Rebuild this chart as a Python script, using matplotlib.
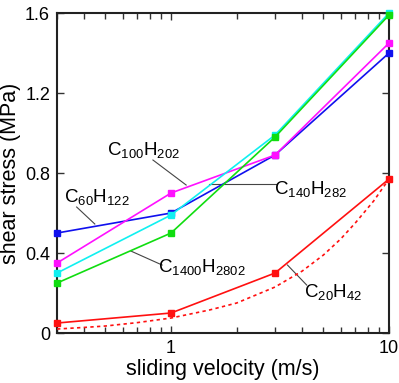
import matplotlib
matplotlib.use('Agg')
import matplotlib.pyplot as plt
from matplotlib.ticker import LogLocator, FixedLocator, NullFormatter, FixedFormatter

plt.rcParams['font.family'] = ['Liberation Sans', 'DejaVu Sans']
plt.rcParams['mathtext.default'] = 'regular'

# data
velocity = [0.3, 1, 3, 10]
c60 = [0.50, 0.60, 0.89, 1.40]
c100 = [0.35, 0.70, 0.89, 1.45]
c140 = [0.30, 0.59, 0.99, 1.60]
c1400 = [0.25, 0.50, 0.98, 1.59]
c20 = [0.05, 0.10, 0.30, 0.77]

# dotted curve for C20H42
fit_v = [0.3, 0.4, 0.5, 0.7, 1, 1.5, 2, 3, 4, 5, 6, 7, 8.5, 10]
fit_s = [0.02, 0.028, 0.035, 0.052, 0.075, 0.115, 0.15, 0.23, 0.31, 0.39, 0.47, 0.55, 0.66, 0.77]

series = [
    (c60, '#1010ee'),
    (c100, '#ff10ff'),
    (c140, '#10f0f0'),
    (c1400, '#10dd10'),
    (c20, '#ff1010'),
]

fig = plt.figure(figsize=(3.99, 3.83), dpi=100)
ax = fig.add_axes([0.143, 0.1305, 0.832, 0.8355])

for vals, col in series:
    ax.plot(velocity, vals, color=col, lw=1.2, marker='s', ms=4.5,
            mec=col, mfc=col, clip_on=False, zorder=3)
ax.plot(fit_v, fit_s, color='#ff1010', lw=1.2, ls=(0, (2, 2)), clip_on=False, zorder=3)

ax.set_xscale('log')
ax.set_xlim(0.3, 10)
ax.set_ylim(0, 1.6)

ax.xaxis.set_major_locator(FixedLocator([1, 10]))
ax.xaxis.set_major_formatter(FixedFormatter(['1', '10']))
ax.xaxis.set_minor_locator(LogLocator(base=10, subs=range(2, 10)))
ax.xaxis.set_minor_formatter(NullFormatter())
ax.yaxis.set_major_locator(FixedLocator([0, 0.4, 0.8, 1.2, 1.6]))
ax.yaxis.set_major_formatter(FixedFormatter(['0', '0.4', '0.8', '1.2', '1.6']))

ax.tick_params(which='both', direction='in', top=True, right=True,
               labelsize=13, color='#333333', pad=5)
ax.tick_params(which='major', length=5, width=1)
ax.tick_params(which='minor', length=4, width=1)
for s in ax.spines.values():
    s.set_linewidth(1.5)
    s.set_color('#222222')

ax.set_xlabel('sliding velocity (m/s)', fontsize=15.5)
ax.set_ylabel('shear stress (MPa)', fontsize=15.5)
ax.xaxis.set_label_coords(0.5, -0.082)
ax.yaxis.set_label_coords(-0.108, 0.5)

labels = [
    (r'C$_{100}$H$_{202}$', (1.173, 0.74), (0.826, 0.865), (0.751, 0.915)),
    (r'C$_{60}$H$_{122}$', (0.447, 0.545), (0.369, 0.63), (0.456, 0.68)),
    (r'C$_{140}$H$_{282}$', (1.50, 0.745), (3.05, 0.745), (4.37, 0.72)),
    (r'C$_{1400}$H$_{2802}$', (0.654, 0.41), (0.91, 0.34), (1.39, 0.33)),
    (r'C$_{20}$H$_{42}$', (3.42, 0.34), (4.19, 0.24), (5.52, 0.205)),
]
for txt, p0, p1, pt in labels:
    ax.plot([p0[0], p1[0]], [p0[1], p1[1]], color='#444444', lw=0.8, zorder=2)
    ax.text(pt[0], pt[1], txt, fontsize=13.5, ha='center', va='center', zorder=4)

fig.savefig('out.png', dpi=100)
